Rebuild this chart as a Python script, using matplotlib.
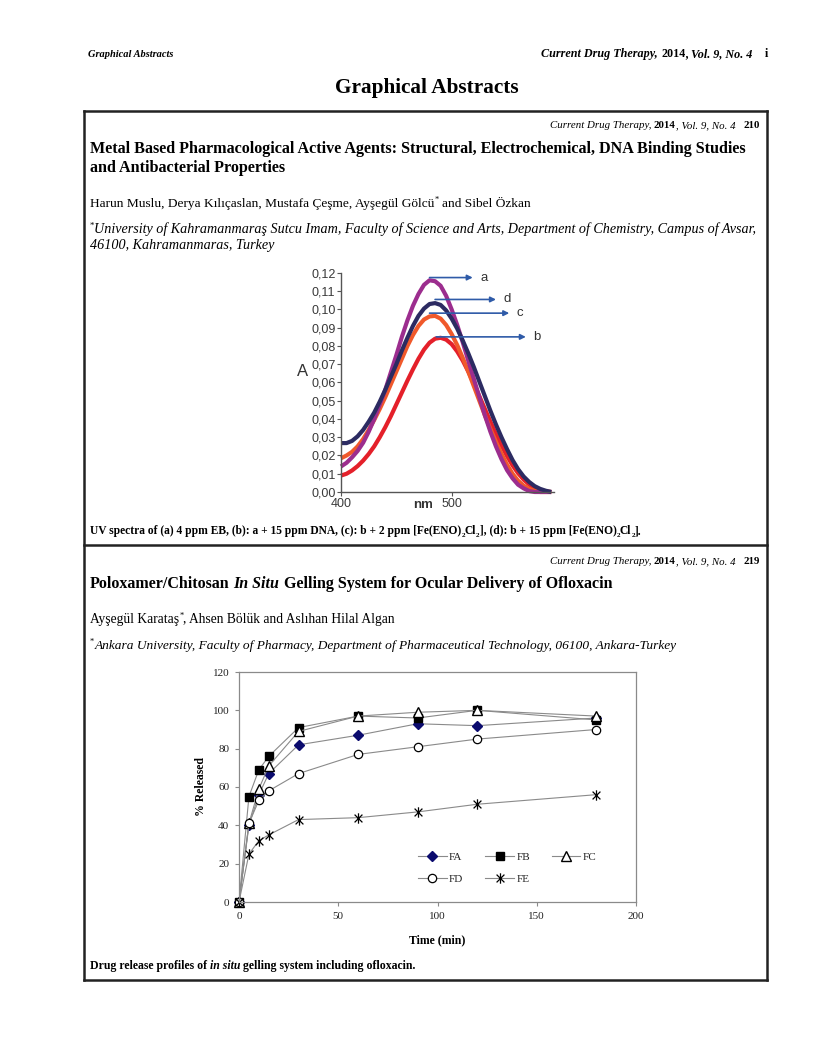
import matplotlib
matplotlib.use("Agg")
import matplotlib.pyplot as plt
from matplotlib.path import Path

# ---------------- data: UV spectra (chart 1) ----------------
wavelength_nm = [400, 405, 410, 415, 420, 425, 430, 435, 440, 445, 450, 455, 460, 465, 470,
                 475, 480, 485, 490, 495, 500, 505, 510, 515, 520, 525, 530, 535, 540, 545,
                 550, 555, 560, 565, 570, 575, 580, 585, 590]
abs_a = [0.0140, 0.0160, 0.0190, 0.0225, 0.0270, 0.0330, 0.0400, 0.0480, 0.0560, 0.0655,
         0.0750, 0.0850, 0.0940, 0.1020, 0.1085, 0.1135, 0.1160, 0.1155, 0.1130, 0.1075,
         0.1000, 0.0915, 0.0820, 0.0720, 0.0620, 0.0520, 0.0420, 0.0330, 0.0250, 0.0180,
         0.0120, 0.0075, 0.0040, 0.0020, 0.0005, 0.0, 0.0, 0.0, 0.0]
abs_d = [0.0268, 0.0268, 0.0280, 0.0305, 0.0340, 0.0385, 0.0435, 0.0495, 0.0560, 0.0630,
         0.0700, 0.0775, 0.0845, 0.0910, 0.0965, 0.1005, 0.1030, 0.1035, 0.1025, 0.0995,
         0.0950, 0.0895, 0.0830, 0.0760, 0.0685, 0.0605, 0.0525, 0.0445, 0.0370, 0.0300,
         0.0235, 0.0175, 0.0125, 0.0085, 0.0055, 0.0032, 0.0017, 0.0007, 0.0]
abs_c = [0.0185, 0.0200, 0.0220, 0.0250, 0.0290, 0.0340, 0.0395, 0.0455, 0.0520, 0.0590,
         0.0660, 0.0730, 0.0800, 0.0860, 0.0910, 0.0945, 0.0962, 0.0965, 0.0950, 0.0915,
         0.0865, 0.0805, 0.0735, 0.0660, 0.0580, 0.0500, 0.0420, 0.0345, 0.0275, 0.0210,
         0.0150, 0.0100, 0.0062, 0.0035, 0.0017, 0.0006, 0.0, 0.0, 0.0]
abs_b = [0.0090, 0.0100, 0.0118, 0.0142, 0.0172, 0.0208, 0.0250, 0.0300, 0.0355, 0.0415,
         0.0480, 0.0545, 0.0610, 0.0672, 0.0730, 0.0780, 0.0818, 0.0840, 0.0845, 0.0835,
         0.0810, 0.0770, 0.0720, 0.0660, 0.0595, 0.0525, 0.0455, 0.0385, 0.0318, 0.0255,
         0.0197, 0.0146, 0.0103, 0.0068, 0.0041, 0.0022, 0.0010, 0.0003, 0.0]
uv_labels = ["a", "d", "c", "b"]
uv_peak_nm = [480, 485, 480, 486]
uv_peak_val = [0.1175, 0.1055, 0.098, 0.085]
uv_arrow_end_nm = [519, 540, 552, 567]
uv_label_nm = [526, 547, 559, 574]
uv_yticks = [0.00, 0.01, 0.02, 0.03, 0.04, 0.05, 0.06, 0.07, 0.08, 0.09, 0.10, 0.11, 0.12]
uv_xticks = [400, 500]

# ---------------- data: drug release (chart 2) ----------------
time_min = [0, 5, 10, 15, 30, 60, 90, 120, 180]
FA = [0, 40, 56, 67, 82, 87, 93, 92, 96]
FB = [0, 55, 69, 76, 91, 97, 96, 100, 95]
FC = [0, 41, 59, 71, 89, 97, 99, 100, 97]
FD = [0, 41, 53, 58, 67, 77, 81, 85, 90]
FE = [0, 25, 32, 35, 43, 44, 47, 51, 56]
rel_yticks = [0, 20, 40, 60, 80, 100, 120]
rel_xticks = [0, 50, 100, 150, 200]

W, H = 816, 1056
fig = plt.figure(figsize=(W / 100, H / 100), dpi=100)
fig.patch.set_facecolor("white")
renderer = fig.canvas.get_renderer()
SERIF = "Liberation Serif"
SANS = "Liberation Sans"


def P(x, y):
    return x / W, 1 - y / H


def tw(txt, **kw):
    t = fig.text(0, 0, "X" + txt + "X", **kw)
    w1 = t.get_window_extent(renderer).width
    t.remove()
    t = fig.text(0, 0, "XX", **kw)
    w0 = t.get_window_extent(renderer).width
    t.remove()
    return w1 - w0


def kwfor(piece, size, family):
    txt, wt, st, kind = piece
    s = size * (0.62 if kind != "n" else 1.0)
    return dict(fontsize=s, fontweight=wt, fontstyle=st, family=family)


def line_width(pieces, size, family):
    return sum(tw(p[0], **kwfor(p, size, family)) for p in pieces)


def rich(x, y, pieces, size=10, family=SERIF, ha="left", width=None, color="black"):
    if width is not None:
        w10 = line_width(pieces, 10, family)
        size = 10 * width / w10
    total = line_width(pieces, size, family)
    cx = x - total if ha == "right" else (x - total / 2 if ha == "center" else x)
    px = size * 100 / 72
    for p in pieces:
        kw = kwfor(p, size, family)
        txt, kind = p[0], p[3]
        dy = {"n": 0, "sup": -0.36 * px, "sub": 0.22 * px}[kind]
        lead = len(txt) - len(txt.lstrip(" "))
        stripped = txt.strip(" ")
        if stripped:
            fig.text(*P(cx + (tw(" " * lead, **kw) if lead else 0), y + dy), stripped,
                     va="baseline", ha="left", color=color, **kw)
        cx += tw(txt, **kw)
    return size


def n(t):
    return (t, "normal", "normal", "n")


def b(t):
    return (t, "bold", "normal", "n")


def i(t):
    return (t, "normal", "italic", "n")


def bi(t):
    return (t, "bold", "italic", "n")


def sup(t):
    return (t, "normal", "normal", "sup")


def bsub(t):
    return (t, "bold", "normal", "sub")


# ---------------- page text ----------------
rich(88, 57, [bi("Graphical Abstracts")], width=85)
rich(768, 57, [bi("Current Drug Therapy, "), b("2014"), bi(", Vol. 9, No. 4"), b("    i")],
     ha="right", width=227)
rich(427, 93, [b("Graphical Abstracts")], ha="center", width=184)

# frame
frame_kw = dict(color="#222222", lw=1.8, solid_capstyle="projecting")
for (x0, y0, x1, y1) in [(84, 111, 767, 111), (84, 980, 767, 980), (84, 111, 84, 980),
                         (767, 111, 767, 980), (84, 545, 767, 545)]:
    fig.add_artist(plt.Line2D([x0 / W, x1 / W], [1 - y0 / H, 1 - y1 / H], **frame_kw))

hdr = lambda num: [i("Current Drug Therapy, "), b("2014"), i(", Vol. 9, No. 4"), b("   " + num)]
rich(760, 128, hdr("210"), ha="right", width=209)
ts = rich(90, 153, [b("Metal Based Pharmacological Active Agents: Structural, Electrochemical, DNA Binding Studies")],
          width=658)
rich(90, 172, [b("and Antibacterial Properties")], size=ts)
rich(90, 207, [n("Harun Muslu, Derya Kılıçaslan, Mustafa Çeşme, Ayşegül Gölcü"), sup("*"),
               n(" and Sibel Özkan")], width=442)
afs = rich(90, 233, [sup("*"), i("University of Kahramanmaraş Sutcu Imam, Faculty of Science and Arts, "
                                 "Department of Chemistry, Campus of Avsar,")], width=670)
rich(90, 249, [i("46100, Kahramanmaras, Turkey")], size=afs)
rich(90, 534, [b("UV spectra of (a) 4 ppm EB, (b): a + 15 ppm DNA, (c): b + 2 ppm [Fe(ENO)"), bsub("2"),
               b("Cl"), bsub("2"), b("], (d): b + 15 ppm [Fe(ENO)"), bsub("2"), b("Cl"), bsub("2"), b("].")],
     width=555)

rich(760, 564, hdr("219"), ha="right", width=209)
rich(90, 588, [b("Poloxamer/Chitosan "), bi("In Situ"),
               b(" Gelling System for Ocular Delivery of Ofloxacin")], width=523)
rich(90, 623, [n("Ayşegül Karataş"), sup("*"), n(", Ahsen Bölük and Aslıhan Hilal Algan")], width=304)
rich(90, 649, [sup("*"), i("Ankara University, Faculty of Pharmacy, Department of Pharmaceutical "
                           "Technology, 06100, Ankara-Turkey")], width=589)
rich(90, 969, [b("Drug release profiles of "), bi("in situ"), b(" gelling system including ofloxacin.")],
     width=328)

# ---------------- chart 1: UV spectra ----------------
x0px, x1px, y0px, y1px = 341, 553.5, 492, 273
ax1 = fig.add_axes([x0px / W, 1 - y0px / H, (x1px - x0px) / W, (y0px - y1px) / H])
ax1.set_xlim(400, 592)
ax1.set_ylim(0, 0.12)
colors = {"a": "#9C2D8E", "d": "#2C2B62", "c": "#F0592B", "b": "#E4202A"}
series = {"a": abs_a, "d": abs_d, "c": abs_c, "b": abs_b}
for key in ["b", "c", "a", "d"]:
    ax1.plot(wavelength_nm, series[key], color=colors[key], lw=3.0, solid_capstyle="butt",
             solid_joinstyle="round", clip_on=False, zorder=2)
for lab, xs, ys, xe, xl in zip(uv_labels, uv_peak_nm, uv_peak_val, uv_arrow_end_nm, uv_label_nm):
    ax1.annotate("", xy=(xe, ys), xytext=(xs, ys),
                 arrowprops=dict(arrowstyle="-|>", color="#2F5BA8", lw=1.2, mutation_scale=8,
                                 shrinkA=0, shrinkB=0), zorder=5, annotation_clip=False)
    ax1.text(xl, ys, lab, fontsize=9.5, family=SANS, color="#333333", va="center", ha="left",
             clip_on=False)
for s in ["top", "right"]:
    ax1.spines[s].set_visible(False)
for s in ["left", "bottom"]:
    ax1.spines[s].set_color("#555555")
    ax1.spines[s].set_linewidth(1.0)
ax1.set_yticks(uv_yticks)
ax1.set_yticklabels([f"{v:.2f}".replace(".", ",") for v in uv_yticks])
ax1.set_xticks(uv_xticks)
ax1.set_xticklabels([str(v) for v in uv_xticks])
ax1.tick_params(axis="both", direction="out", length=3, width=0.8, color="#555555",
                labelsize=9, labelcolor="#3a3a3a", pad=1)
for t in ax1.get_xticklabels() + ax1.get_yticklabels():
    t.set_family(SANS)
ax1.patch.set_alpha(0)
fig.text(*P(423, 505), "nm", fontsize=9.5, fontweight="bold", family=SANS, color="#333333",
         ha="center", va="center")
fig.text(*P(303, 372), "A", fontsize=12, family=SANS, color="#333333", ha="center", va="center")

# ---------------- chart 2: drug release ----------------
bx0, bx1, by0, by1 = 239, 636, 902, 672
ax2 = fig.add_axes([bx0 / W, 1 - by0 / H, (bx1 - bx0) / W, (by0 - by1) / H])
ax2.set_xlim(0, 200)
ax2.set_ylim(0, 120)
star = Path([(0, -1), (0, 1), (-0.75, -0.75), (0.75, 0.75), (-0.75, 0.75), (0.75, -0.75)],
            [Path.MOVETO, Path.LINETO, Path.MOVETO, Path.LINETO, Path.MOVETO, Path.LINETO])
line_c = "#8a8a8a"
hA, = ax2.plot(time_min, FA, color=line_c, lw=0.8, marker="D", ms=5, mfc="#0B0B6E", mec="#0B0B6E",
               label="FA", clip_on=False)
hB, = ax2.plot(time_min, FB, color=line_c, lw=0.8, marker="s", ms=6, mfc="black", mec="black",
               label="FB", clip_on=False)
hC, = ax2.plot(time_min, FC, color=line_c, lw=0.8, marker="^", ms=6.5, mfc="white", mec="black",
               mew=1.0, label="FC", clip_on=False)
hD, = ax2.plot(time_min, FD, color=line_c, lw=0.8, marker="o", ms=6, mfc="white", mec="black",
               mew=0.9, label="FD", clip_on=False)
hE, = ax2.plot(time_min, FE, color=line_c, lw=0.8, marker=star, ms=7.5, mfc="none", mec="black",
               mew=0.9, label="FE", clip_on=False)
for s in ax2.spines.values():
    s.set_color("#8a8a8a")
    s.set_linewidth(0.9)
ax2.set_xticks(rel_xticks)
ax2.set_yticks(rel_yticks)
ax2.tick_params(axis="both", direction="out", length=3, width=0.8, color="#8a8a8a",
                labelsize=8, labelcolor="#222222", pad=4)
for t in ax2.get_xticklabels() + ax2.get_yticklabels():
    t.set_family(SERIF)
leg = ax2.legend([hA, hD, hB, hE, hC], ["FA", "FD", "FB", "FE", "FC"], ncol=3, frameon=False,
                 loc="upper left", bbox_to_anchor=((418 - bx0) / (bx1 - bx0), (by0 - 852) / (by0 - by1)),
                 borderaxespad=0, borderpad=0, handlelength=2.6, handletextpad=0.2,
                 columnspacing=1.95, labelspacing=1.15, prop=dict(family=SERIF, size=8))
for t in leg.get_texts():
    t.set_color("#222222")
fig.text(*P(201, 787), "% Released", rotation=90, fontsize=8.5, fontweight="bold", family=SERIF,
         ha="center", va="center")
fig.text(*P(437, 940), "Time (min)", fontsize=8.5, fontweight="bold", family=SERIF,
         ha="center", va="center")

fig.savefig("out.png", dpi=100, facecolor="white")
